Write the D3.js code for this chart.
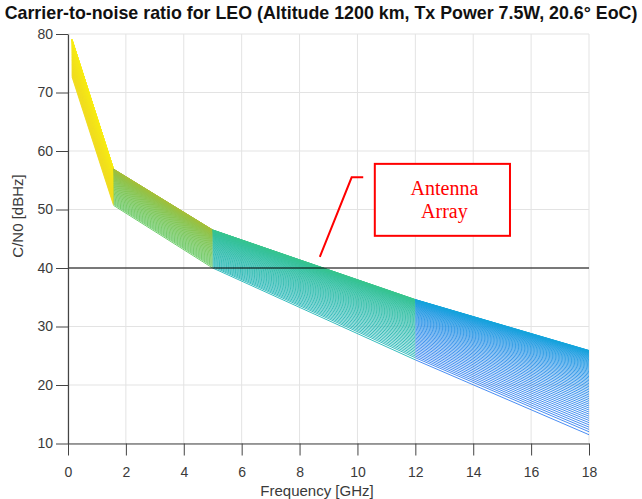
<!DOCTYPE html>
<html>
<head>
<meta charset="utf-8">
<script src="https://cdn.jsdelivr.net/npm/d3@7"></script>
<style>
  body { margin: 0; background: #fff; }
  svg { display: block; font-family: "Liberation Sans", Arial, sans-serif; }
</style>
</head>
<body>
<div id="chart"></div>
<script>
const width = 642;
const height = 499;
const margin = {top: 34, right: 53, bottom: 55.5, left: 68};

// breakpoints of every curve (GHz) and the band edges
const freqGHz = [0.137, 1.575, 5, 12, 18];
const topCN0 = [79.1, 56.9, 46.5, 34.6, 25.9];
const bottomCN0 = [72.7, 50.7, 40.0, 24.3, 11.5];
// relative position of each curve inside the band (0 = top edge, 1 = bottom edge)
const lineSpread = [0, .0012, .0028, .0048, .0072, .01, .0132, .0168, .0208, .0252, .03, .0352,
  .0408, .0468, .0532, .06, .0672, .0748, .0828, .0912, .1, .1092, .1188, .1288, .1392, .15,
  .1612, .1728, .1848, .1972, .21, .2232, .2368, .2508, .2652, .28, .2952, .3108, .3268, .3432,
  .36, .3772, .3948, .4128, .4312, .45, .4692, .4888, .5088, .5292, .55, .5712, .5928, .6148,
  .6372, .66, .6832, .7068, .7308, .7552, .78, .8052, .8308, .8568, .8832, .91, .9372, .9648, 1];
const threshold = 40;
const xTicks = [0, 2, 4, 6, 8, 10, 12, 14, 16, 18];
const yTicks = [10, 20, 30, 40, 50, 60, 70, 80];

// colour of first / last curve in each frequency segment
const segTopColour = ["#f9f00e", "#adbe35", "#3cc78b", "#12a7da"];
const segBottomColour = ["#f0dc1e", "#62c760", "#1fb4b6", "#3580f0"];

const svg = d3.select("#chart").append("svg")
  .attr("width", width)
  .attr("height", height);

const x = d3.scaleLinear().domain([0, 18]).range([margin.left, width - margin.right]);
const y = d3.scaleLinear().domain([10, 80]).range([height - margin.bottom, margin.top]);

// grid
svg.append("g").selectAll("line")
  .data(xTicks)
  .join("line")
  .attr("x1", d => x(d)).attr("x2", d => x(d))
  .attr("y1", y(10)).attr("y2", y(80))
  .attr("stroke", "#e3e3e3");
svg.append("g").selectAll("line")
  .data(yTicks)
  .join("line")
  .attr("x1", x(0)).attr("x2", x(18))
  .attr("y1", d => y(d)).attr("y2", d => y(d))
  .attr("stroke", "#e3e3e3");

// curves, one short line per segment per curve
const curves = svg.append("g");
for (let s = 0; s < freqGHz.length - 1; s++) {
  const col = d3.interpolateRgb(segTopColour[s], segBottomColour[s]);
  lineSpread.forEach((t, i) => {
    const v0 = topCN0[s] - t * (topCN0[s] - bottomCN0[s]);
    const v1 = topCN0[s + 1] - t * (topCN0[s + 1] - bottomCN0[s + 1]);
    curves.append("line")
      .attr("x1", x(freqGHz[s])).attr("y1", y(v0))
      .attr("x2", x(freqGHz[s + 1])).attr("y2", y(v1))
      .attr("stroke", col(i / (lineSpread.length - 1)))
      .attr("stroke-width", 0.9);
  });
}

// 40 dBHz threshold
svg.append("line")
  .attr("x1", x(0)).attr("x2", x(18))
  .attr("y1", y(threshold)).attr("y2", y(threshold))
  .attr("stroke", "#000")
  .attr("stroke-width", 1);

// axes
const xAxis = svg.append("g")
  .attr("transform", `translate(0,${y(10)})`)
  .call(d3.axisBottom(x).tickValues(xTicks).tickSize(12).tickSizeOuter(0).tickPadding(12));
const yAxis = svg.append("g")
  .attr("transform", `translate(${x(0)},0)`)
  .call(d3.axisLeft(y).tickValues(yTicks).tickSize(12).tickSizeOuter(0).tickPadding(3));
[xAxis, yAxis].forEach(g => {
  g.select(".domain").attr("stroke", "#444").attr("stroke-width", 1.2);
  g.selectAll(".tick line").attr("stroke", "#444");
  g.selectAll("text")
    .attr("fill", "#3a3a3a")
    .style("font-size", "14px")
    .style("font-family", "'Liberation Sans', Arial, sans-serif");
});

// labels
svg.append("text")
  .attr("x", 317)
  .attr("y", 496)
  .attr("text-anchor", "middle")
  .attr("fill", "#3a3a3a")
  .style("font-size", "15px")
  .text("Frequency [GHz]");

svg.append("text")
  .attr("transform", "translate(23,216) rotate(-90)")
  .attr("text-anchor", "middle")
  .attr("fill", "#3a3a3a")
  .style("font-size", "15px")
  .text("C/N0 [dBHz]");

const title = svg.append("text")
  .attr("x", 321)
  .attr("y", 19)
  .attr("text-anchor", "middle")
  .attr("fill", "#111")
  .style("font-size", "15px")
  .style("font-weight", "bold")
  .text("Carrier-to-noise ratio for LEO (Altitude 1200 km, Tx Power 7.5W, 20.6° EoC)");
const tw = title.node().getComputedTextLength();
title.style("font-size", (15 * 633 / tw) + "px");

// annotation
const arrowPts = [[8.70, 41.9], [9.80, 55.5], [10.2, 55.5]];
svg.append("path")
  .attr("d", d3.line().x(d => x(d[0])).y(d => y(d[1]))(arrowPts))
  .attr("fill", "none")
  .attr("stroke", "#ff0000")
  .attr("stroke-width", 2);

const boxX = [10.6, 15.27];
const boxY = [57.8, 45.5];
svg.append("rect")
  .attr("x", x(boxX[0]))
  .attr("y", y(boxY[0]))
  .attr("width", x(boxX[1]) - x(boxX[0]))
  .attr("height", y(boxY[1]) - y(boxY[0]))
  .attr("fill", "#fff")
  .attr("stroke", "#ff0000")
  .attr("stroke-width", 2);

const noteX = (x(boxX[0]) + x(boxX[1])) / 2 + 2;
["Antenna", "Array"].forEach((t, i) => {
  svg.append("text")
    .attr("x", noteX)
    .attr("y", y(boxY[0]) + 31 + i * 23)
    .attr("text-anchor", "middle")
    .attr("fill", "#ff0000")
    .style("font-family", "'Liberation Serif', 'Times New Roman', serif")
    .style("font-size", "20px")
    .text(t);
});
</script>
</body>
</html>
